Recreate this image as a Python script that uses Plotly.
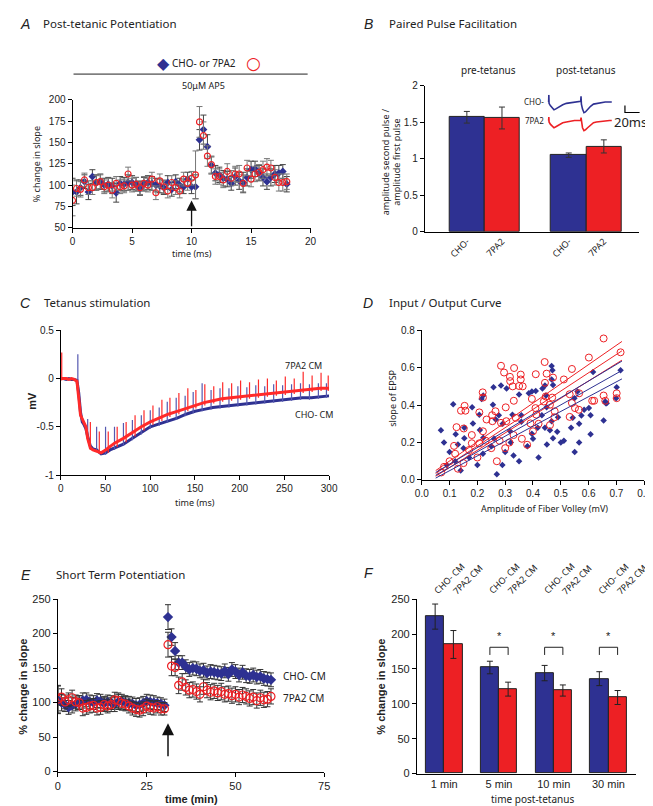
import plotly.graph_objects as go

W, H = 653, 806
BLUE = "#2e3192"
RED = "#ed2024"
TFONT = "Noto Sans"
AFONT = "Liberation Sans"

# ---------------- Panel A data ----------------
a_time = [i / 3 for i in range(55)]
a_blue = [92, 92, 97, 104, 92, 110, 103, 104, 100, 101, 99, 91, 102, 101, 103, 103, 101, 96, 101, 103,
          102, 100, 99, 97, 103, 95, 104, 100, 98, 107, 98, 98,
          153, 165, 145, 123, 114, 112, 108, 107, 102, 110, 105, 103, 109, 118, 119, 114, 109, 104, 109,
          113, 114, 116, 101]
a_blue_err = [16, 14, 9, 8, 9, 8, 9, 9, 8, 8, 9, 11, 8, 8, 9, 8, 8, 8, 8, 8,
              8, 8, 8, 8, 8, 8, 8, 8, 8, 8, 8, 14,
              12, 17, 14, 10, 9, 9, 9, 9, 8, 10, 10, 12, 10, 10, 9, 9, 10, 9, 10,
              10, 9, 8, 9]
a_red = [82, 96, 95, 106, 97, 97, 103, 104, 98, 100, 94, 102, 98, 99, 113, 100, 101, 97, 102, 100,
         107, 91, 105, 98, 93, 103, 97, 93, 107, 102, 108, 112,
         174, 158, 134, 124, 110, 110, 106, 116, 108, 113, 113, 102, 120, 107, 113, 115, 118, 121, 120,
         109, 103, 103, 104]
a_red_err = [18, 9, 9, 8, 8, 8, 8, 8, 8, 8, 9, 8, 8, 8, 8, 8, 8, 8, 8, 8,
             8, 8, 8, 8, 8, 8, 8, 8, 8, 8, 8, 28,
             18, 16, 12, 10, 9, 9, 9, 9, 9, 9, 10, 10, 9, 9, 9, 9, 10, 10, 9,
             9, 10, 10, 9]
a_xticks = [0, 5, 10, 15, 20]
a_yticks = [50, 75, 100, 125, 150, 175, 200]
a_arrow_x = 10

# ---------------- Panel B data ----------------
b_pos = [1.2, 2.2, 4.1, 5.1]
b_labels = ["CHO-", "7PA2", "CHO-", "7PA2"]
b_vals = [1.57, 1.56, 1.05, 1.17]
b_errs = [0.08, 0.15, 0.03, 0.09]
b_colors = [BLUE, RED, BLUE, RED]
b_yticks = [0, 0.5, 1, 1.5, 2]
b_yticktext = ["0", "0.5", "1", "1.5", "2"]
# inset traces (ms, mV-like)
ins_t = [2.7, 3.0, 3.3, 5, 8, 10, 12, 15, 18, 22, 27, 32, 38, 44, 46.5, 47, 47.5, 49, 51, 53, 56, 60, 64, 68, 74, 80, 86, 89]
ins_blue = [0, 0.1, -0.02, -0.05, -0.09, -0.11, -0.1, -0.08, -0.06, -0.04, -0.02, -0.01, 0.0, 0.01,
            0.01, 0.08, -0.03, -0.1, -0.15, -0.14, -0.1, -0.06, -0.03, -0.02, -0.01, 0.0, 0.0, 0.0]
ins_red = [-0.26, -0.21, -0.28, -0.31, -0.34, -0.36, -0.35, -0.33, -0.31, -0.29, -0.28, -0.27, -0.26, -0.26,
           -0.26, -0.22, -0.29, -0.36, -0.40, -0.39, -0.36, -0.32, -0.29, -0.28, -0.27, -0.27, -0.26, -0.26]
scale_x = [107, 107, 127]
scale_y = [-0.05, -0.147, -0.147]

# ---------------- Panel C data ----------------
c_t = [0, 3, 6, 9, 12, 15, 18, 20, 22, 24, 26, 28, 30, 33, 36, 40, 45, 50, 55, 60, 70, 80, 90, 100,
       110, 120, 130, 140, 150, 160, 170, 180, 190, 200, 210, 220, 230, 240, 250, 260, 270, 280, 290, 300]
c_blue = [0.0, 0.0, -0.01, 0.0, -0.01, -0.01, -0.02, -0.15, -0.35, -0.45, -0.48, -0.52, -0.6, -0.7, -0.73,
          -0.74, -0.78, -0.77, -0.74, -0.72, -0.68, -0.62, -0.56, -0.5, -0.47, -0.44, -0.41, -0.37, -0.34,
          -0.32, -0.3, -0.29, -0.28, -0.27, -0.26, -0.25, -0.24, -0.23, -0.22, -0.21, -0.2, -0.2, -0.19, -0.18]
c_red = [0.0, 0.0, 0.0, -0.01, 0.0, -0.01, -0.03, -0.2, -0.38, -0.42, -0.46, -0.5, -0.62, -0.72, -0.74,
         -0.75, -0.77, -0.74, -0.7, -0.67, -0.62, -0.56, -0.5, -0.45, -0.41, -0.37, -0.34, -0.31, -0.28,
         -0.25, -0.23, -0.21, -0.2, -0.19, -0.18, -0.17, -0.16, -0.15, -0.14, -0.13, -0.12, -0.11, -0.1, -0.1]
c_blue_spk_t = [19, 30, 40, 50, 60, 70, 80, 90, 100, 110, 119, 129, 139, 148, 158, 168, 178, 188, 198, 208,
                218, 228, 238, 248, 258, 268, 278, 288, 297]
c_blue_spk_top = [0.25, -0.42, -0.5, -0.5, -0.5, -0.46, -0.43, -0.38, -0.33, -0.3, -0.24, -0.2, -0.18, -0.14,
                  -0.05, -0.12, -0.1, -0.1, -0.08, -0.09, -0.07, -0.08, -0.06, -0.07, -0.06, -0.05, -0.06, -0.05, -0.05]
c_blue_spk_bot = [-0.02, -0.62, -0.76, -0.79, -0.74, -0.7, -0.64, -0.58, -0.52, -0.49, -0.46, -0.43, -0.39, -0.36,
                  -0.34, -0.32, -0.31, -0.3, -0.29, -0.28, -0.27, -0.26, -0.25, -0.24, -0.23, -0.22, -0.22, -0.21, -0.2]
c_red_spk_t = [1, 33, 43, 53, 63, 73, 83, 93, 103, 113, 122, 132, 142, 151, 161, 171, 181, 191, 201, 211,
               221, 231, 241, 251, 261, 271, 281, 291, 299]
c_red_spk_top = [0.27, -0.45, -0.55, -0.55, -0.5, -0.45, -0.38, -0.33, -0.28, -0.22, -0.2, -0.15, -0.1, -0.12,
                 -0.06, -0.08, -0.04, -0.05, -0.02, -0.04, -0.01, 0.0, -0.02, 0.02, 0.0, 0.07, 0.03, 0.06, 0.03]
c_red_spk_bot = [-0.02, -0.74, -0.78, -0.77, -0.71, -0.66, -0.6, -0.54, -0.48, -0.44, -0.4, -0.37, -0.34, -0.31,
                 -0.28, -0.26, -0.24, -0.23, -0.22, -0.21, -0.2, -0.19, -0.18, -0.17, -0.16, -0.15, -0.14, -0.13, -0.13]
c_xticks = [0, 50, 100, 150, 200, 250, 300]
c_yticks = [-1, -0.5, 0, 0.5]
c_yticktext = ["-1", "-0.5", "0", "0.5"]

# ---------------- Panel D data ----------------
d_red_x = [0.654, 0.715, 0.601, 0.54, 0.511, 0.442, 0.449, 0.443, 0.472, 0.41, 0.285, 0.296, 0.332, 0.317, 0.318,
           0.356, 0.356, 0.35, 0.327, 0.363, 0.331, 0.219, 0.22, 0.154, 0.141, 0.157, 0.207, 0.125, 0.151, 0.233,
           0.253, 0.265, 0.254, 0.302, 0.304, 0.285, 0.338, 0.396, 0.409, 0.412, 0.391, 0.439, 0.446, 0.469, 0.461,
           0.478, 0.477, 0.461, 0.532, 0.54, 0.551, 0.566, 0.565, 0.532, 0.613, 0.62, 0.654, 0.66, 0.701, 0.701,
           0.116, 0.18, 0.207, 0.379, 0.28, 0.315, 0.07, 0.08, 0.1, 0.12, 0.13, 0.15, 0.17, 0.2, 0.23, 0.25, 0.27,
           0.3, 0.33, 0.36, 0.4, 0.42, 0.22, 0.18]
d_red_y = [0.756, 0.682, 0.654, 0.593, 0.537, 0.63, 0.568, 0.519, 0.547, 0.565, 0.61, 0.574, 0.598, 0.551, 0.528,
           0.563, 0.537, 0.502, 0.5, 0.5, 0.423, 0.468, 0.44, 0.396, 0.37, 0.37, 0.361, 0.282, 0.275, 0.323,
           0.346, 0.367, 0.314, 0.388, 0.314, 0.305, 0.332, 0.433, 0.384, 0.349, 0.302, 0.419, 0.446, 0.44, 0.402,
           0.367, 0.335, 0.293, 0.458, 0.411, 0.384, 0.463, 0.375, 0.337, 0.423, 0.423, 0.451, 0.423, 0.463, 0.437,
           0.182, 0.196, 0.196, 0.188, 0.209, 0.2, 0.04, 0.07, 0.1, 0.14, 0.06, 0.09, 0.16, 0.12, 0.21, 0.17, 0.1,
           0.17, 0.24, 0.22, 0.26, 0.3, 0.26, 0.24]
d_blue_x = [0.113, 0.069, 0.122, 0.153, 0.153, 0.181, 0.184, 0.207, 0.215, 0.221, 0.209, 0.221, 0.256, 0.266,
            0.258, 0.285, 0.305, 0.277, 0.291, 0.317, 0.326, 0.35, 0.358, 0.358, 0.385, 0.396, 0.41, 0.434, 0.443,
            0.467, 0.47, 0.467, 0.472, 0.447, 0.449, 0.432, 0.467, 0.49, 0.396, 0.417, 0.443, 0.461, 0.472, 0.487,
            0.511, 0.537, 0.543, 0.549, 0.56, 0.566, 0.574, 0.584, 0.616, 0.601, 0.607, 0.607, 0.654, 0.66, 0.662,
            0.665, 0.701, 0.715, 0.699, 0.566,
            0.1, 0.12, 0.14, 0.15, 0.17, 0.2, 0.22, 0.25, 0.27, 0.3, 0.32, 0.35, 0.38, 0.4, 0.42, 0.45, 0.5, 0.55,
            0.08, 0.09, 0.13, 0.26, 0.33, 0.29]
d_blue_y = [0.405, 0.265, 0.244, 0.279, 0.223, 0.388, 0.302, 0.349, 0.433, 0.451, 0.267, 0.226, 0.402, 0.323,
            0.495, 0.504, 0.489, 0.346, 0.3, 0.261, 0.349, 0.456, 0.346, 0.311, 0.463, 0.472, 0.475, 0.489, 0.504,
            0.609, 0.586, 0.537, 0.507, 0.451, 0.388, 0.346, 0.314, 0.335, 0.247, 0.279, 0.279, 0.265, 0.223, 0.258,
            0.209, 0.279, 0.332, 0.437, 0.472, 0.3, 0.344, 0.375, 0.577, 0.384, 0.346, 0.244, 0.318, 0.419, 0.41,
            0.41, 0.495, 0.586, 0.437, 0.2,
            0.15, 0.1, 0.05, 0.17, 0.12, 0.08, 0.14, 0.18, 0.03, 0.15, 0.2, 0.1, 0.18, 0.22, 0.12, 0.19, 0.2, 0.15,
            0.2, 0.08, 0.19, 0.22, 0.13, 0.08]
d_fit_x = [0.05, 0.72]
d_red_fit = [0.035, 0.69]
d_red_hi = [0.05, 0.74]
d_red_lo = [0.02, 0.64]
d_blue_fit = [0.025, 0.585]
d_blue_hi = [0.04, 0.635]
d_blue_lo = [0.01, 0.54]
d_ticks = [0.0, 0.1, 0.2, 0.3, 0.4, 0.5, 0.6, 0.7, 0.8]
d_yticks = [0.0, 0.2, 0.4, 0.6, 0.8]

# ---------------- Panel E data ----------------
e_t_pre = list(range(0, 31))
e_t_post = list(range(31, 61))
e_blue_pre = [104, 100, 97, 93, 96, 98, 100, 103, 104, 101, 100, 103, 102, 99, 101, 100, 98, 101, 102, 100,
              99, 98, 96, 97, 99, 102, 101, 100, 99, 98, 96]
e_red_pre = [105, 108, 101, 104, 107, 101, 100, 92, 93, 95, 96, 92, 93, 97, 95, 97, 104, 103, 99, 98,
             95, 92, 90, 89, 91, 95, 93, 92, 94, 91, 91]
e_blue_post = [224, 195, 175, 158, 158, 152, 148, 150, 149, 146, 147, 143, 145, 144, 143, 142, 146, 141, 148, 145,
               140, 144, 139, 138, 140, 137, 138, 135, 134, 133]
e_red_post = [184, 153, 151, 125, 130, 122, 118, 119, 116, 112, 123, 118, 115, 117, 114, 116, 112, 113, 110, 112,
              108, 111, 109, 106, 108, 103, 107, 104, 105, 109]
e_err_pre = [20, 12, 10, 10, 11, 10, 10, 11, 10, 10, 10, 10, 10, 10, 10, 10, 11, 11, 10, 10,
             10, 10, 10, 10, 10, 10, 10, 10, 9, 9, 9]
e_blue_err_post = [18, 12, 12, 10, 10, 10, 10, 10, 10, 10, 10, 10, 10, 10, 10, 10, 10, 10, 10, 10,
                   10, 10, 10, 10, 10, 10, 10, 10, 10, 10]
e_red_err_post = [18, 14, 12, 12, 12, 11, 11, 11, 11, 11, 11, 11, 11, 11, 11, 12, 11, 11, 11, 11,
                  11, 11, 11, 11, 11, 11, 11, 11, 11, 11]
e_xticks = [0, 25, 50, 75]
e_yticks = [0, 50, 100, 150, 200, 250]
e_arrow_x = 31

# ---------------- Panel F data ----------------
f_groups = ["1 min", "5 min", "10 min", "30 min"]
f_cho_pos = [1, 4, 7, 10]
f_7pa2_pos = [2, 5, 8, 11]
f_cho = [225, 152, 144, 136]
f_cho_err = [18, 9, 11, 10]
f_7pa2 = [185, 121, 119, 109]
f_7pa2_err = [20, 10, 8, 10]
f_sig = [1, 2, 3]
f_bracket_top = 181
f_bracket_bot = 170
f_yticks = [0, 50, 100, 150, 200, 250]


def fx(px):
    return px / W


def fy(py):
    return 1 - py / H


fig = go.Figure()

axis_common = dict(showgrid=False, zeroline=False, showline=True, linecolor="black", linewidth=1,
                   ticks="outside", ticklen=4, tickcolor="black", tickwidth=1,
                   tickfont=dict(family=AFONT, size=10, color="#222"))

# ---- A ----
fig.add_trace(go.Scatter(x=a_time, y=a_blue, mode="markers", xaxis="x", yaxis="y",
                         marker=dict(symbol="diamond", size=6, color=BLUE),
                         error_y=dict(type="data", array=a_blue_err, color="#444", thickness=1, width=3),
                         showlegend=False))
fig.add_trace(go.Scatter(x=a_time, y=a_red, mode="markers", xaxis="x", yaxis="y",
                         marker=dict(symbol="circle-open", size=6, color=RED, line=dict(width=1.2)),
                         error_y=dict(type="data", array=a_red_err, color="#777", thickness=1, width=3),
                         showlegend=False))

# ---- B ----
fig.add_trace(go.Bar(x=b_pos, y=b_vals, width=1, xaxis="x2", yaxis="y2",
                     marker=dict(color=b_colors, line=dict(color="#222", width=1)),
                     error_y=dict(type="data", array=b_errs, color="#333", thickness=1, width=3),
                     showlegend=False))
fig.add_trace(go.Scatter(x=ins_t, y=ins_blue, mode="lines", xaxis="x3", yaxis="y3",
                         line=dict(color=BLUE, width=1.6), showlegend=False))
fig.add_trace(go.Scatter(x=ins_t, y=ins_red, mode="lines", xaxis="x3", yaxis="y3",
                         line=dict(color=RED, width=1.6), showlegend=False))
fig.add_trace(go.Scatter(x=scale_x, y=scale_y, mode="lines", xaxis="x3", yaxis="y3",
                         line=dict(color="black", width=1.2), showlegend=False))

# ---- C ----
def spikes(ts, bots, tops):
    xs, ys = [], []
    for t, b, tp in zip(ts, bots, tops):
        xs += [t, t, None]
        ys += [b, tp, None]
    return xs, ys

bx, by = spikes(c_blue_spk_t, c_blue_spk_bot, c_blue_spk_top)
rx, ry = spikes(c_red_spk_t, c_red_spk_bot, c_red_spk_top)
fig.add_trace(go.Scatter(x=c_t, y=c_blue, mode="lines", xaxis="x4", yaxis="y4",
                         line=dict(color=BLUE, width=3), showlegend=False))
fig.add_trace(go.Scatter(x=bx, y=by, mode="lines", xaxis="x4", yaxis="y4",
                         line=dict(color="#5558b0", width=1.2), showlegend=False))
fig.add_trace(go.Scatter(x=c_t, y=c_red, mode="lines", xaxis="x4", yaxis="y4",
                         line=dict(color="#ff2a2a", width=3), showlegend=False))
fig.add_trace(go.Scatter(x=rx, y=ry, mode="lines", xaxis="x4", yaxis="y4",
                         line=dict(color="#ff2a2a", width=1.2), showlegend=False))

# ---- D ----
fig.add_trace(go.Scatter(x=d_blue_x, y=d_blue_y, mode="markers", xaxis="x5", yaxis="y5",
                         marker=dict(symbol="diamond", size=5, color=BLUE), showlegend=False))
fig.add_trace(go.Scatter(x=d_red_x, y=d_red_y, mode="markers", xaxis="x5", yaxis="y5",
                         marker=dict(symbol="circle-open", size=7, color=RED, line=dict(width=1)),
                         showlegend=False))
for ys, col in [(d_red_hi, RED), (d_red_fit, RED), (d_red_lo, RED),
                (d_blue_hi, BLUE), (d_blue_fit, BLUE), (d_blue_lo, BLUE)]:
    fig.add_trace(go.Scatter(x=d_fit_x, y=ys, mode="lines", xaxis="x5", yaxis="y5",
                             line=dict(color=col, width=1), showlegend=False))

# ---- E ----
fig.add_trace(go.Scatter(x=e_t_pre + e_t_post, y=e_blue_pre + e_blue_post, mode="markers", xaxis="x6", yaxis="y6",
                         marker=dict(symbol="diamond", size=8, color=BLUE),
                         error_y=dict(type="data", array=e_err_pre + e_blue_err_post, color="#333", thickness=1, width=3),
                         showlegend=False))
fig.add_trace(go.Scatter(x=e_t_pre + e_t_post, y=e_red_pre + e_red_post, mode="markers", xaxis="x6", yaxis="y6",
                         marker=dict(symbol="circle-open", size=8, color=RED, line=dict(width=1.2)),
                         error_y=dict(type="data", array=e_err_pre + e_red_err_post, color="#333", thickness=1, width=3),
                         showlegend=False))

# ---- F ----
fig.add_trace(go.Bar(x=f_cho_pos, y=f_cho, width=1, xaxis="x7", yaxis="y7",
                     marker=dict(color=BLUE, line=dict(color="#222", width=1)),
                     error_y=dict(type="data", array=f_cho_err, color="#222", thickness=1, width=3),
                     showlegend=False))
fig.add_trace(go.Bar(x=f_7pa2_pos, y=f_7pa2, width=1, xaxis="x7", yaxis="y7",
                     marker=dict(color=RED, line=dict(color="#222", width=1)),
                     error_y=dict(type="data", array=f_7pa2_err, color="#222", thickness=1, width=3),
                     showlegend=False))

layout = dict(
    width=W, height=H, margin=dict(l=0, r=0, t=0, b=0),
    paper_bgcolor="white", plot_bgcolor="rgba(0,0,0,0)", bargap=0,
    xaxis=dict(axis_common, domain=[fx(59), fx(303)], range=[0, 20], tickvals=a_xticks, anchor="y"),
    yaxis=dict(axis_common, domain=[fy(217), fy(87)], range=[50, 200], tickvals=a_yticks, anchor="x"),
    xaxis2=dict(axis_common, domain=[fx(420), fx(640)], range=[0, 6.11], tickvals=b_pos, ticktext=b_labels,
                ticks="", tickangle=-45, anchor="y2", tickfont=dict(family=TFONT, size=9, color="#222")),
    yaxis2=dict(axis_common, domain=[fy(221), fy(73)], range=[0, 2.0], tickvals=b_yticks, ticktext=b_yticktext,
                anchor="x2"),
    xaxis3=dict(domain=[fx(545), fx(645)], range=[0, 133.3], visible=False, anchor="y3"),
    yaxis3=dict(domain=[fy(122), fy(82)], range=[-0.45, 0.1], visible=False, anchor="x3"),
    xaxis4=dict(axis_common, domain=[fx(47), fx(322)], range=[0, 300], tickvals=c_xticks, anchor="y4"),
    yaxis4=dict(axis_common, domain=[fy(468), fy(321)], range=[-1, 0.5], tickvals=c_yticks, ticktext=c_yticktext,
                anchor="x4"),
    xaxis5=dict(axis_common, domain=[fx(417), fx(645)], range=[0, 0.8], tickvals=d_ticks, tickformat=".1f",
                anchor="y5"),
    yaxis5=dict(axis_common, domain=[fy(473), fy(321)], range=[0, 0.8], tickvals=d_yticks, tickformat=".1f",
                anchor="x5"),
    xaxis6=dict(axis_common, domain=[fx(44), fx(317)], range=[0, 75], tickvals=e_xticks, anchor="y6",
                tickfont=dict(family=AFONT, size=11, color="#222")),
    yaxis6=dict(axis_common, domain=[fy(769), fy(594)], range=[0, 250], tickvals=e_yticks, anchor="x6",
                tickfont=dict(family=AFONT, size=11, color="#222")),
    xaxis7=dict(axis_common, domain=[fx(412), fx(637)], range=[0, 12.03],
                tickvals=[(a + b) / 2 for a, b in zip(f_cho_pos, f_7pa2_pos)], ticktext=f_groups, ticks="",
                anchor="y7", tickfont=dict(family=AFONT, size=11, color="#222")),
    yaxis7=dict(axis_common, domain=[fy(771), fy(594)], range=[0, 250], tickvals=f_yticks, anchor="x7",
                tickfont=dict(family=AFONT, size=11, color="#222")),
)

ann = []
def txt(text, x, y, size=10, family=TFONT, xanchor="center", yanchor="middle", angle=0, color="#222", **kw):
    ann.append(dict(text=text, x=fx(x), y=fy(y), xref="paper", yref="paper", showarrow=False,
                    xanchor=xanchor, yanchor=yanchor, textangle=angle,
                    font=dict(family=family, size=size, color=color), **kw))

# panel titles
for letter, lx, ly, title, tx in [("A", 10, 10, "Post-tetanic Potentiation", 27),
                                  ("B", 362, 10, "Paired Pulse Facilitation", 381),
                                  ("C", 11, 293, "Tetanus stimulation", 28),
                                  ("D", 362, 293, "Input / Output Curve", 381),
                                  ("E", 11, 569, "Short Term Potentiation", 40),
                                  ("F", 363, 567, "", 0)]:
    txt("<i>" + letter + "</i>", lx, ly, size=14, family=AFONT)
    if title:
        txt(title, tx, ly, size=11.5, xanchor="left")

# A extras
txt("◆", 152, 50, size=16, color=BLUE, family="DejaVu Sans")
txt("CHO- or 7PA2", 194, 50, size=10)
txt("○", 245, 50, size=17, color=RED, family="DejaVu Sans")
txt("50μM AP5", 193, 73, size=9)
txt("% change in slope", 22, 152, size=9, angle=-90)
txt("time (ms)", 181, 243, size=9)

# B extras
txt("pre-tetanus", 485, 57, size=10)
txt("post-tetanus", 585, 57, size=10)
txt("amplitude second pulse /<br>amplitude first pulse", 386, 150, size=9, angle=-90)
txt("CHO-", 544, 89, size=8, xanchor="right")
txt("7PA2", 544, 108, size=8, xanchor="right")
txt("20ms", 631, 110, size=13)

# C extras
txt("<b>mV</b>", 18, 393, size=11, angle=-90, family=AFONT)
txt("time (ms)", 185, 496, size=9)
txt("7PA2 CM", 296, 357, size=9)
txt("CHO- CM", 307, 407, size=9)

# D extras
txt("slope of EPSP", 387, 390, size=9, angle=-90)
txt("Amplitude of Fiber Volley (mV)", 543, 502, size=9)

# E extras
txt("<b>% change in slope</b>", 8, 683, size=11, angle=-90, family=AFONT)
txt("<b>time (min)</b>", 181, 797, size=11, family=AFONT)
txt("CHO- CM", 273, 672, size=10, xanchor="left")
txt("7PA2 CM", 273, 694, size=10, xanchor="left")

# F extras
txt("<b>% change in slope</b>", 375, 683, size=11, angle=-90, family=AFONT)
txt("time post-tetanus", 530, 797, size=10)
for p in f_cho_pos:
    ann.append(dict(text="CHO- CM", x=p, y=fy(573), xref="x7", yref="paper", xshift=14, showarrow=False,
                    xanchor="center", yanchor="middle",
                    textangle=-45, font=dict(family=TFONT, size=9, color="#222")))
for p in f_7pa2_pos:
    ann.append(dict(text="7PA2 CM", x=p, y=fy(574), xref="x7", yref="paper", xshift=14, showarrow=False,
                    xanchor="center", yanchor="middle",
                    textangle=-45, font=dict(family=TFONT, size=9, color="#222")))

shapes = []
for i in f_sig:
    x0, x1 = f_cho_pos[i], f_7pa2_pos[i]
    shapes.append(dict(type="path", xref="x7", yref="y7",
                       path=f"M {x0},{f_bracket_bot} L {x0},{f_bracket_top} L {x1},{f_bracket_top} L {x1},{f_bracket_bot}",
                       line=dict(color="#222", width=1)))
    ann.append(dict(text="*", x=(x0 + x1) / 2, y=f_bracket_top + 4, xref="x7", yref="y7", showarrow=False,
                    yanchor="bottom", font=dict(family=AFONT, size=11, color="#222")))

# A legend rule line
shapes.append(dict(type="line", xref="paper", yref="paper", x0=fx(60), x1=fx(300), y0=fy(61), y1=fy(61),
                   line=dict(color="#222", width=1)))

# arrows
ann.append(dict(x=a_arrow_x, y=82, ax=a_arrow_x, ay=50, xref="x", yref="y", axref="x", ayref="y",
                showarrow=True, arrowhead=2, arrowsize=1.6, arrowwidth=1.3, arrowcolor="#111", text=""))
ann.append(dict(x=e_arrow_x, y=70, ax=e_arrow_x, ay=20, xref="x6", yref="y6", axref="x6", ayref="y6",
                showarrow=True, arrowhead=2, arrowsize=1.6, arrowwidth=1.5, arrowcolor="#111", text=""))

layout["annotations"] = ann
layout["shapes"] = shapes
fig.update_layout(**layout)
fig.write_html("out.html")
